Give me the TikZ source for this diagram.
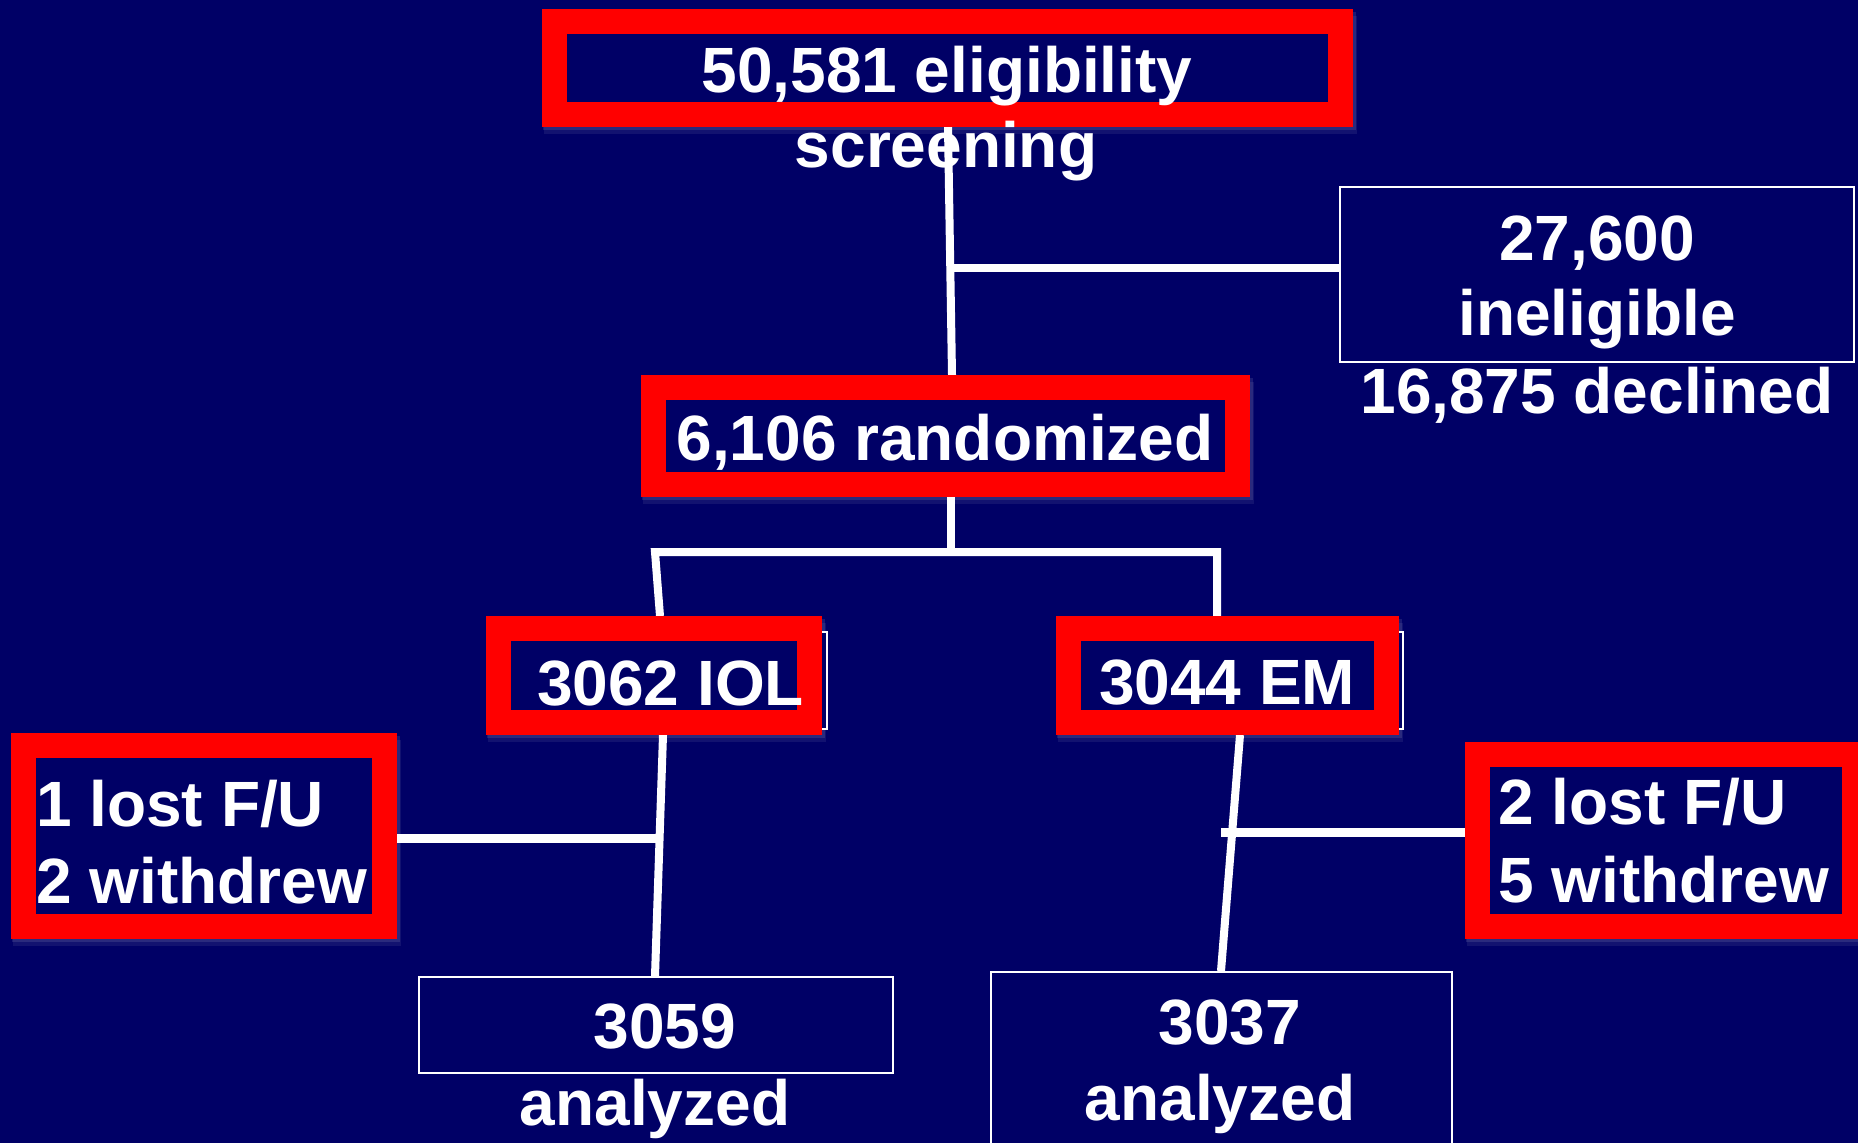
\documentclass[tikz,border=0pt]{standalone}
\usepackage{fontspec}
\setmainfont{Liberation Sans}
\definecolor{navy}{RGB}{0,0,102}
\pgfdeclarelayer{bg}
\pgfdeclarelayer{lines}
\pgfsetlayers{bg,lines,main}
\begin{document}
\begin{tikzpicture}[x=1pt,y=-1pt,
  font=\bfseries\fontsize{64pt}{77pt}\selectfont,
  redbox/.style={draw=red, line width=25pt, fill=navy, inner sep=0pt},
  thinbox/.style={draw=white, line width=2pt, fill=navy, inner sep=0pt},
  txt/.style={inner sep=0pt, anchor=base, text=white},
  txtl/.style={inner sep=0pt, anchor=base west, text=white},
  conn/.style={draw=white, line width=8pt}]
\useasboundingbox (0,0) rectangle (1858,1143);

% thin white boxes
\node[thinbox, minimum width=514pt, minimum height=175pt] (inel) at (1597,274.5) {};
\node[thinbox, minimum width=474pt, minimum height=96pt] (an1) at (656,1025) {};
\node[thinbox, minimum width=461pt, minimum height=178pt] (an2) at (1221.5,1061) {};
\node[thinbox, minimum width=327pt, minimum height=97pt] (iolback) at (663.5,680.5) {};
\node[thinbox, minimum width=333pt, minimum height=97pt] (emback) at (1236.5,680.5) {};

% red boxes
\node[redbox, minimum width=786pt, minimum height=93pt] (top) at (947.5,68) {};
\node[redbox, minimum width=584pt, minimum height=97pt] (rand) at (945.5,436) {};
\node[redbox, minimum width=311pt, minimum height=94pt] (iol) at (654,675.5) {};
\node[redbox, minimum width=318pt, minimum height=94pt] (em) at (1227.5,675.5) {};
\node[redbox, minimum width=361pt, minimum height=181pt] (lostl) at (204,836) {};
\node[redbox, minimum width=377pt, minimum height=172pt] (lostr) at (1666,840.5) {};

% texts
\node[txt] (t1) at (947,92) {50,581 eligibility};
\node[txt] (t2) at (946,167) {screening};
\node[txt] (t3) at (1597,260) {27,600};
\node[txt] (t4) at (1597,335) {ineligible};
\node[txt] (t5) at (1597,413) {16,875 declined};
\node[txt] (t6) at (945,460) {6,106 randomized};
\node[txtl] (t7) at (537,705) {3062 IOL};
\node[txtl] (t8) at (1099,704) {3044 EM};
\node[txtl] (t9) at (36,826) {1 lost F/U};
\node[txtl] (t10) at (36,903) {2 withdrew};
\node[txtl] (t11) at (1498,824) {2 lost F/U};
\node[txtl] (t12) at (1498,902) {5 withdrew};
\node[txt] (t13) at (665,1048) {3059};
\node[txt] (t14) at (655,1125) {analyzed};
\node[txt] (t15) at (1230,1044) {3037};
\node[txt] (t16) at (1220,1120) {analyzed};

% junction coordinates
\coordinate (j1) at (950.5,268);
\coordinate (split) at (951,552);
\coordinate (splitl) at (655,552);
\coordinate (splitr) at (1217,552);
\coordinate (j3) at (656,838);
\coordinate (j4) at (1221,832);

\begin{pgfonlayer}{lines}
\draw[conn] ([xshift=0.5pt]top.south) -- ([xshift=6.5pt]rand.north);
\draw[conn] (j1) -- (j1 -| inel.west);
\draw[conn] ([xshift=5.5pt]rand.south) -- (split);
\draw[conn, line join=miter] ([xshift=6pt]iol.north) -- (splitl) -- (splitr) -- ([xshift=-10.5pt]em.north);
\draw[conn] ([xshift=9pt]iol.south) -- ([xshift=-1pt]an1.north);
\draw[conn, line width=9pt] (lostl.east |- j3) -- (j3);
\draw[conn] ([xshift=12.5pt]em.south) -- ([xshift=-0.5pt]an2.north);
\draw[conn, line width=9pt] (j4) -- (j4 -| lostr.west);
\end{pgfonlayer}

\begin{pgfonlayer}{bg}
\fill[navy] (0,0) rectangle (1858,1143);
\foreach \b in {top,rand,iol,em,lostl,lostr} {
  \fill[white, opacity=0.10] ([xshift=1pt,yshift=-3pt]\b.south west) rectangle ([xshift=3pt,yshift=-3pt]\b.north east);
  \fill[white, opacity=0.07] ([xshift=2pt,yshift=-7pt]\b.south west) rectangle ([xshift=4pt,yshift=-7pt]\b.north east);
}
\end{pgfonlayer}
\end{tikzpicture}
\end{document}
